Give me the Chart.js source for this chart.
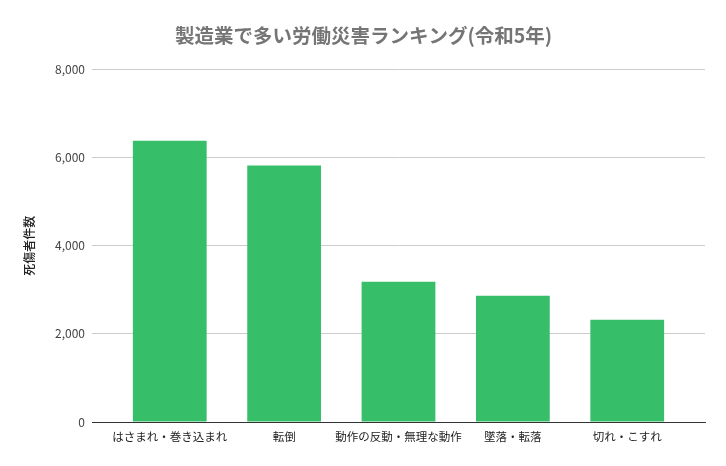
<!DOCTYPE html>
<html lang="ja">
<head>
<meta charset="UTF-8">
<title>製造業で多い労働災害ランキング(令和5年)</title>
<script src="https://cdn.jsdelivr.net/npm/chart.js@4.4.0/dist/chart.umd.min.js"></script>
<style>
  html, body { margin: 0; padding: 0; background: #fff; }
  #wrap { width: 726px; height: 466px; }
</style>
</head>
<body>
<div id="wrap"><canvas id="myChart" width="726" height="466"></canvas></div>
<script>
// データ
const categories = ['はさまれ・巻き込まれ', '転倒', '動作の反動・無理な動作', '墜落・転落', '切れ・こすれ'];
const casualties = [6380, 5820, 3180, 2865, 2320];
const yTicks = [0, 2000, 4000, 6000, 8000];

const FONT = '"Noto Sans CJK JP", Roboto, Arial, sans-serif';

// 横軸は数値軸にして、端の余白をスプレッドシート風にする
const points = casualties.map(function(v, i) { return { x: i, y: v }; });

const ctx = document.getElementById('myChart').getContext('2d');
const myChart = new Chart(ctx, {
  type: 'bar',
  data: {
    datasets: [{
      label: '死傷者件数',
      data: points,
      backgroundColor: '#37be68',
      borderWidth: 0,
      barPercentage: 0.645,
      categoryPercentage: 1.0
    }]
  },
  options: {
    responsive: false,
    animation: false,
    layout: { padding: { left: 22, right: 21, top: 0, bottom: 0 } },
    plugins: {
      legend: { display: false },
      tooltip: { enabled: false },
      title: {
        display: true,
        text: '製造業で多い労働災害ランキング(令和5年)',
        color: '#757575',
        font: { family: FONT, size: 19.5, weight: 'bold' },
        padding: { top: 24, bottom: 22 }
      }
    },
    scales: {
      x: {
        type: 'linear',
        offset: false,
        min: -0.68,
        max: 4.68,
        afterBuildTicks: function(scale) {
          scale.ticks = categories.map(function(c, i) { return { value: i }; });
        },
        grid: { display: false, drawTicks: false },
        border: { color: '#333', width: 1 },
        ticks: {
          color: '#222',
          font: { family: FONT, size: 11.5 },
          maxRotation: 0,
          autoSkip: false,
          padding: 8,
          callback: function(v) { return categories[v]; }
        },
        afterFit: function(scale) { scale.height = 44; }
      },
      y: {
        min: 0,
        max: 8000,
        afterBuildTicks: function(scale) {
          scale.ticks = yTicks.map(function(v) { return { value: v }; });
        },
        grid: {
          color: function(c) { return c.tick.value === 0 ? '#333' : '#cccccc'; },
          drawTicks: false
        },
        border: { display: false },
        ticks: {
          color: '#444',
          font: { family: FONT, size: 12 },
          padding: 7,
          callback: function(v) { return v.toLocaleString('en-US'); }
        },
        title: {
          display: true,
          text: '死傷者件数',
          color: '#222',
          font: { family: FONT, size: 12, weight: 500 },
          padding: { top: 0, bottom: 0 }
        },
        afterFit: function(scale) { scale.width = 70; }
      }
    }
  }
});
</script>
</body>
</html>
